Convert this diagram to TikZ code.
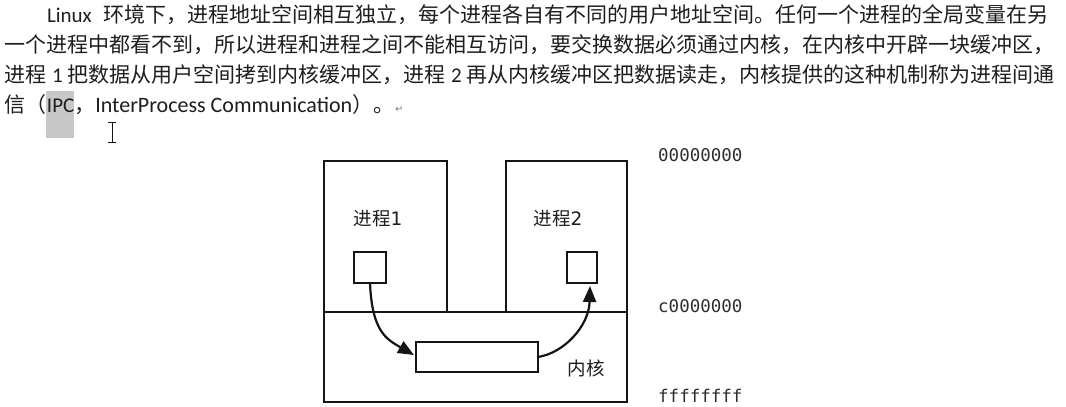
\documentclass[tikz,border=0pt]{standalone}
\usepackage{fontspec}
\setmainfont{Noto Sans CJK SC}
\newfontfamily\lat{Carlito}
\newfontfamily\dvs{DejaVu Sans}
\newfontfamily\hexf{DejaVu Sans Mono}
\usetikzlibrary{arrows.meta}
\XeTeXlinebreaklocale "zh"
\XeTeXlinebreakskip=0pt plus 4pt
\definecolor{txt}{HTML}{1E1E1E}
\definecolor{ln}{HTML}{151515}
\definecolor{hlc}{HTML}{C8C8C8}
\definecolor{hexc}{HTML}{2E2E2E}
\tikzset{
  para/.style={inner sep=0pt, outer sep=0pt, text=txt, font=\fontsize{21pt}{21pt}\selectfont},
  frame/.style={draw=ln, line width=2.2pt, inner sep=0pt, outer sep=0pt},
  lbl/.style={inner sep=0pt, text=txt, font=\fontsize{18.5pt}{18.5pt}\selectfont},
  hexlbl/.style={inner sep=0pt, anchor=west, text=hexc, font=\hexf\fontsize{17.5pt}{17.5pt}\selectfont},
  arr/.style={draw=ln, line width=2.2pt, -{Triangle[length=16pt,width=13pt]}},
  ibeam/.style={draw=ln, line width=1pt}
}
\begin{document}
\begin{tikzpicture}[x=1pt,y=-1pt]
\useasboundingbox[fill=white] (0,0) rectangle (1066,407);
% selection highlight behind IPC
\fill[hlc] (46,91) rectangle (74,138);
% paragraph
\node[para, anchor=base west] (l1) at (47,22) {\hbox to 1008pt{{\lat Linux}\kern12pt 环境下，进程地址空间相互独立，每个进程各自有不同的用户地址空间。任何一个进程的全局变量在另}};
\node[para, anchor=base west] (l2) at (5,52) {\hbox to 1050pt{一个进程中都看不到，所以进程和进程之间不能相互访问，要交换数据必须通过内核，在内核中开辟一块缓冲区，}};
\node[para, anchor=base west] (l3) at (5,82) {\hbox to 1050pt{进程 {\lat 1} 把数据从用户空间拷到内核缓冲区，进程 {\lat 2} 再从内核缓冲区把数据读走，内核提供的这种机制称为进程间通}};
\node[para, anchor=base west] (l4) at (5,112) {信（{\lat IPC}，{\lat\fontsize{22pt}{22pt}\selectfont InterProcess Communication}）。\kern1pt{\dvs\fontsize{10pt}{10pt}\selectfont\color{gray}↵}};
% text cursor
\draw[ibeam] (112,122) -- (112,142);
\draw[ibeam] (108,122) -- (116,122);
\draw[ibeam] (108,142) -- (116,142);
% diagram
\node[frame, minimum width=303pt, minimum height=90pt] (kern) at (475.5,357) {};
\node[frame, minimum width=123pt, minimum height=151pt] (p1) at (385.5,236.5) {};
\node[frame, minimum width=121pt, minimum height=151pt] (p2) at (566.5,236.5) {};
\node[frame, minimum width=32pt, minimum height=31pt] (s1) at (370,267.5) {};
\node[frame, minimum width=30pt, minimum height=31pt] (s2) at (582,267.5) {};
\node[frame, minimum width=122pt, minimum height=30pt] (buf) at (477,357) {};
\node[lbl] (t1) at (378,219) {进程{\dvs 1}};
\node[lbl] (t2) at (558,219) {进程{\dvs 2}};
\node[lbl] (tk) at (586,368) {内核};
\node[hexlbl] (h0) at (658,155) {00000000};
\node[hexlbl] (h1) at (658,306) {c0000000};
\node[hexlbl] (h2) at (658,396) {ffffffff};
\draw[arr] (s1.south) .. controls +(2,48) and +(-28,-16) .. ([xshift=-2pt,yshift=2pt]buf.west);
\draw[arr] (buf.east) .. controls +(26,-4) and +(-1,40) .. ([xshift=8pt,yshift=-3pt]s2.south);
\end{tikzpicture}
\end{document}
